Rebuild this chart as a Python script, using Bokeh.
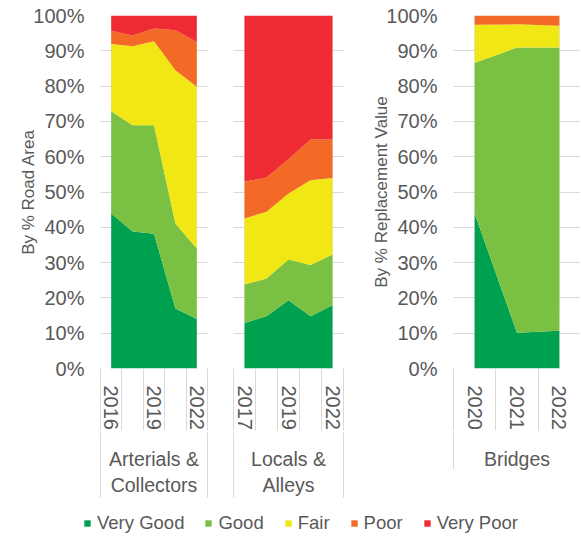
from bokeh.plotting import figure
from bokeh.models import (Range1d, LinearAxis, FixedTicker, Grid, NumeralTickFormatter,
                          ColumnDataSource, Legend, LegendItem)
from bokeh.layouts import row, column
from bokeh.embed import file_html
from bokeh.resources import INLINE

# ---------------- data ----------------
conditions = ["Very Good", "Good", "Fair", "Poor", "Very Poor"]
colors = ["#00A14E", "#7AC143", "#F1E714", "#F26A26", "#EE2A33"]

years_ac = ["2016", "2017", "2019", "2021", "2022"]
ac_very_good = [0.439, 0.388, 0.382, 0.170, 0.140]
ac_good = [0.290, 0.301, 0.307, 0.241, 0.200]
ac_fair = [0.190, 0.224, 0.238, 0.434, 0.458]
ac_poor = [0.038, 0.030, 0.036, 0.113, 0.127]
ac_very_poor = [0.043, 0.057, 0.037, 0.042, 0.075]

years_la = ["2017", "2018", "2019", "2020", "2022"]
la_very_good = [0.129, 0.148, 0.193, 0.148, 0.179]
la_good = [0.109, 0.107, 0.116, 0.145, 0.144]
la_fair = [0.187, 0.189, 0.187, 0.240, 0.217]
la_poor = [0.104, 0.097, 0.097, 0.116, 0.109]
la_very_poor = [0.471, 0.459, 0.407, 0.351, 0.351]

years_br = ["2020", "2021", "2022"]
br_very_good = [0.439, 0.101, 0.107]
br_good = [0.427, 0.808, 0.802]
br_fair = [0.108, 0.066, 0.062]
br_poor = [0.026, 0.025, 0.029]
br_very_poor = [0.0, 0.0, 0.0]

y_ticks = [i / 10 for i in range(11)]

FONT = "Liberation Sans"
TXT = "#595959"
GRID = "#D9D9D9"


def make_source(series):
    n = len(series[0])
    data = {"x": list(range(n))}
    for name, vals in zip(conditions, series):
        data[name] = vals
    return ColumnDataSource(data)


def panel(years, series, group_label, frame_w, left, right, show_every,
          y_label=None, group_tick_out=65):
    n = len(years)
    p = figure(frame_width=frame_w, frame_height=353,
               x_range=Range1d(-0.5, n - 0.5), y_range=Range1d(0, 1),
               x_axis_location=None, y_axis_location=None,
               output_backend="svg", toolbar_location=None,
               min_border_left=left, min_border_right=right,
               min_border_top=15, min_border_bottom=130)
    p.outline_line_color = None
    p.background_fill_color = "white"
    p.add_layout(Grid(dimension=1, ticker=FixedTicker(ticks=y_ticks),
                      grid_line_color=GRID, grid_line_width=1))
    p.varea_stack(stackers=conditions, x="x", color=colors, source=make_source(series))

    if y_label is not None:
        ya = LinearAxis(ticker=FixedTicker(ticks=y_ticks),
                        formatter=NumeralTickFormatter(format="0%"),
                        axis_label=y_label)
        ya.axis_line_color = None
        ya.major_tick_line_color = None
        ya.minor_tick_line_color = None
        ya.major_tick_out = 0
        ya.minor_tick_out = 0
        ya.major_label_standoff = 16
        ya.major_label_text_font = FONT
        ya.major_label_text_font_size = "20px"
        ya.major_label_text_color = TXT
        ya.axis_label_text_font = FONT
        ya.axis_label_text_font_size = "17px"
        ya.axis_label_text_font_style = "normal"
        ya.axis_label_text_color = TXT
        ya.axis_label_standoff = -8
        p.add_layout(ya, "left")

    # year axis (category separators drawn as minor ticks)
    xa = LinearAxis(ticker=FixedTicker(ticks=list(range(n)),
                                       minor_ticks=[i - 0.5 for i in range(n + 1)]))
    xa.major_label_overrides = {i: (years[i] if i % show_every == 0 else "")
                                for i in range(n)}
    xa.major_label_orientation = "vertical"
    xa.axis_line_color = None
    xa.major_tick_out = 0
    xa.major_tick_in = 0
    xa.major_tick_line_color = None
    xa.minor_tick_in = 0
    xa.minor_tick_out = 62
    xa.minor_tick_line_color = GRID
    xa.major_label_standoff = 17 - 62
    xa.major_label_text_font = FONT
    xa.major_label_text_font_size = "20px"
    xa.major_label_text_color = TXT
    p.add_layout(xa, "below")

    # group axis
    ga = LinearAxis(ticker=FixedTicker(ticks=[(n - 1) / 2],
                                       minor_ticks=[-0.5, n - 0.5]))
    ga.major_label_overrides = {(n - 1) / 2: group_label}
    ga.axis_line_color = None
    ga.major_tick_out = 0
    ga.major_tick_in = 0
    ga.major_tick_line_color = None
    ga.minor_tick_in = 0
    ga.minor_tick_out = group_tick_out
    ga.minor_tick_line_color = GRID
    ga.major_label_standoff = 15 - group_tick_out
    ga.major_label_text_font = FONT
    ga.major_label_text_font_size = "19.5px"
    ga.major_label_text_color = TXT
    p.add_layout(ga, "below")
    return p


ac_series = [ac_very_good, ac_good, ac_fair, ac_poor, ac_very_poor]
pA = panel(years_ac, ac_series,
           "Arterials &\nCollectors", 107, 100, 5, 2, y_label="By % Road Area")
pB = panel(years_la, [la_very_good, la_good, la_fair, la_poor, la_very_poor],
           "Locals &\nAlleys", 110, 21, 5, 2)
pC = panel(years_br, [br_very_good, br_good, br_fair, br_poor, br_very_poor],
           "Bridges", 127, 105, 0, 1, y_label="By % Replacement Value",
           group_tick_out=37)

# legend strip (stack renderers kept out of view; only their legend swatches show)
pL = figure(width=580, height=36, x_range=Range1d(0, 1), y_range=Range1d(10, 11),
            x_axis_location=None, y_axis_location=None,
            output_backend="svg", toolbar_location=None, min_border=0)
pL.outline_line_color = None
pL.grid.visible = False
rs = pL.varea_stack(stackers=conditions, x="x", color=colors, source=make_source(ac_series))
items = [LegendItem(label=name, renderers=[r]) for name, r in zip(conditions, rs)]
leg = Legend(items=items, orientation="horizontal", location=(83, 0),
             glyph_width=8, glyph_height=8, label_standoff=6, spacing=20,
             padding=0, margin=0, border_line_color=None, background_fill_alpha=0,
             label_text_font=FONT, label_text_font_size="18.5px",
             label_text_color=TXT)
pL.add_layout(leg)

layout = column(row(pA, pB, pC), pL)
open("out.html", "w").write(file_html(layout, INLINE))
